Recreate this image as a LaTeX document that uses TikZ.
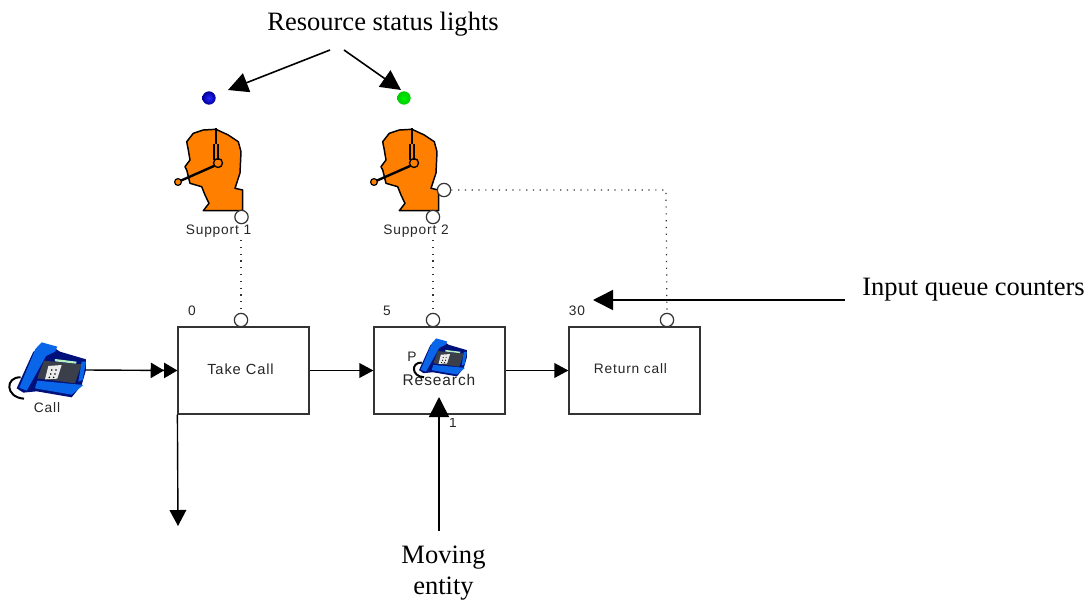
\documentclass[tikz,border=0pt]{standalone}
\usepackage{fontspec}
\setmainfont{Liberation Serif}
\newfontfamily\smallsans[LetterSpace=6]{Liberation Sans}
\usetikzlibrary{arrows.meta}
\definecolor{headorange}{HTML}{FF8000}
\definecolor{phoneblue}{HTML}{0A66E8}
\definecolor{phonenavy}{HTML}{00107A}
\definecolor{phonegray}{HTML}{3A3F4A}
\definecolor{lcdgreen}{HTML}{B5F0C0}
\definecolor{boxline}{HTML}{333333}
\tikzset{
  x=0.75pt,y=-0.75pt,
  procbox/.style={draw=boxline,line width=0.9pt,fill=white,minimum width=98.25pt,minimum height=65.25pt,inner sep=0pt},
  procname/.style={font=\smallsans\fontsize{10.3}{12}\selectfont,text=black!85,inner sep=0pt},
  port/.style={circle,draw=boxline,line width=0.9pt,fill=white,minimum size=10pt,inner sep=0pt},
  light/.style={circle,minimum size=10pt,inner sep=0pt,shading=radial},
  note/.style={font=\fontsize{19.9}{23}\selectfont,inner sep=0pt,align=center},
  flow/.style={draw=black,line width=1.05pt,-{Triangle[length=10.5pt,width=11pt]}},
  bigarrow/.style={draw=black,line width=1.2pt,-{Triangle[length=15pt,width=15pt]}},
  link/.style={draw=boxline,line width=0.9pt,dash pattern=on 0.9pt off 4.2pt},
}
\newcommand{\headset}[1]{%
\begin{scope}[shift={(#1,0)}]
  \fill[headorange,draw=black,line width=1.1pt,line join=round]
    (193.3,133.3)--(203.3,130)--(216,129.3)--(228.3,135)--(238.3,141.7)--(241,151.7)--(240,173)--(235,188.3)--(242.7,190)--(242.7,210.7)--(203.3,210.7)--(209,203.3)--(205,195)--(201.7,186.7)--(190,183.3)--(186.7,170)--(185,166.7)--(190,160)--(188.3,150)--(186.7,141.7)--cycle;
  \draw[black,line width=1.6pt] (216,128)--(216,144);
  \draw[black,line width=0.8pt] (214,144)--(214,160) (218,144)--(218,160);
  \draw[black,line width=1pt] (218,163) circle[radius=4.5];
  \draw[black,line width=1.8pt] (214,166)--(180,181);
  \fill[headorange,draw=black,line width=0.9pt] (178,182) circle[radius=3.4];
\end{scope}}
\newcommand{\phoneset}[3]{%
\begin{scope}[shift={(#1,#2)},scale=#3]
  \draw[black,line width=1.5pt,fill=white] (62,172)..controls (15,170) and (15,232) ..(72,236);
  \fill[phonenavy] (150,75)--(180,95)--(258,118)--(258,150)--(245,195)--(215,232)--(110,214)--(70,218)--(50,205)--(100,95)--cycle;
  \fill[phonegray] (132,122)--(245,133)--(225,190)--(112,175)--cycle;
  \fill[lcdgreen] (165,117)--(230,125)--(228,131)--(165,124)--cycle;
  \fill[black!8] (145,138)--(185,135)--(172,176)--(135,178)--cycle;
  \foreach \a/\b in {155/150,168/150,152/162,165/162,148/172,161/172}{\fill[black] (\a,\b) circle[radius=2.6];}
  \fill[phoneblue] (125,67)--(172,80)--(165,95)--(138,108)--(112,155)--(80,212)--(58,203)--(97,110)--(106,87)--cycle;
  \fill[phoneblue] (112,182)--(250,195)--(215,224)--(105,205)--cycle;
  \fill[phoneblue] (245,125)--(258,125)--(248,180)--(235,185)--cycle;
\end{scope}}
\begin{document}
\begin{tikzpicture}
\useasboundingbox (0,0) rectangle (1088,600);

% process boxes
\node[procbox] (take) at (243.5,370.5) {};
\node[procbox] (research) at (439.5,370.5) {};
\node[procbox] (return) at (634.5,370.5) {};

% status lights
\node[light,inner color=blue!85!white,outer color=blue!60!black] (light1) at (209,98) {};
\node[light,inner color=green!95!black,outer color=green!80!black] (light2) at (404,98) {};

% free ends
\coordinate (call out) at (86,370);
\coordinate (exit) at (178,526);
\coordinate (s1) at (330,50);
\coordinate (s2) at (344,50);
\coordinate (t1) at (228,90);
\coordinate (t2) at (401,90);
\coordinate (q1) at (845,300);
\coordinate (q2) at (593,300);
\coordinate (m1) at (439,531);
\coordinate (m2) at (439,397);
\coordinate (corner) at (666,190);

% resource icons
\headset{0}
\headset{196}

% ports
\node[port] (p1) at (241.5,217) {};
\node[port] (p2) at (433,217) {};
\node[port] (p3) at (444,190) {};
\node[port] (b1) at (241,320) {};
\node[port] (b2) at (433,320) {};
\node[port] (b3) at (667,320) {};

% dotted links
\draw[link] (241,240) -- (b1);
\draw[link] (433,240) -- (b2);
\draw[link] (p3) -- (corner) -- (b3);

% flows
\draw[draw=black,line width=1.05pt,-{Triangle[length=10pt,width=11.5pt]Triangle[length=10pt,width=11.5pt]}] (call out) -- (take.west);
\draw[flow] (take.east) -- (research.west);
\draw[flow] (research.east) -- (return.west);
\draw[draw=black,line width=1.05pt,-{Triangle[length=12pt,width=12.5pt]}] (take.south west) -- (exit);

% phones
\phoneset{0}{320}{0.3333}

% labels
\node[procname] (lcall) at (47,408) {Call};
\node[procname] (lsup1) at (218.5,231) {Support 1};
\node[procname] (lsup2) at (416,231) {Support 2};
\node[procname,font=\smallsans\fontsize{11}{12}\selectfont] (ltake) at (240.5,369) {Take Call};
\node[procname] (lreturn) at (630.5,369) {Return call};
\node[procname,font=\smallsans\fontsize{11.6}{12}\selectfont] (lresearch) at (439,380) {Research};
\node[procname] (lp) at (412,357) {P};
\phoneset{407.5}{323}{0.23}

% clipped counters
\begin{scope}
  \clip (170,305.5) rectangle (600,320);
  \node[procname] (c0) at (192,310.5) {0};
  \node[procname] (c5) at (387,310.5) {5};
  \node[procname] (c30) at (577,310.5) {30};
\end{scope}
\begin{scope}
  \clip (440,418) rectangle (470,431);
  \node[procname] (c1) at (453,423) {1};
\end{scope}

% annotations
\node[note] (nstatus) at (383,24) {Resource status lights};
\node[note,anchor=west] (nqueue) at (862,290) {Input queue counters};
\node[note] (nmove) at (443.5,573) {Moving\\entity};
\draw[bigarrow] (s1) -- (t1);
\draw[bigarrow] (s2) -- (t2);
\draw[bigarrow] (q1) -- (q2);
\draw[bigarrow] (m1) -- (m2);
\end{tikzpicture}
\end{document}
